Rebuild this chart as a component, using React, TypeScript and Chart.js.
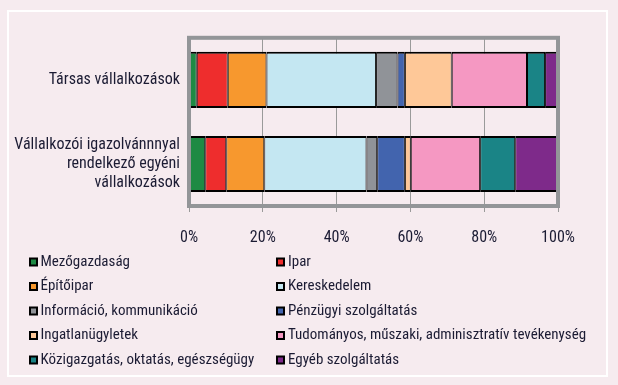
import React, { useEffect, useRef } from "react";
import { Chart, registerables } from "chart.js";

Chart.register(...registerables);

const categories: string[][] = [
  ["Társas vállalkozások"],
  ["Vállalkozói igazolvánnnyal", "rendelkező egyéni", "vállalkozások"],
];

const seriesNames = [
  "Mezőgazdaság",
  "Ipar",
  "Építőipar",
  "Kereskedelem",
  "Információ, kommunikáció",
  "Pénzügyi szolgáltatás",
  "Ingatlanügyletek",
  "Tudományos, műszaki, adminisztratív tevékenység",
  "Közigazgatás, oktatás, egészségügy",
  "Egyéb szolgáltatás",
];

const mezogazdasag = [2.1, 4.4];
const ipar = [8.4, 5.7];
const epitoipar = [10.5, 10.3];
const kereskedelem = [29.7, 27.7];
const informacio = [5.8, 2.9];
const penzugyi = [2.0, 7.5];
const ingatlan = [12.7, 1.6];
const tudomanyos = [20.4, 18.8];
const kozigazgatas = [4.9, 9.5];
const egyeb = [3.5, 11.6];

const seriesValues = [mezogazdasag, ipar, epitoipar, kereskedelem, informacio, penzugyi, ingatlan, tudomanyos, kozigazgatas, egyeb];

const seriesColors = ["#1e8a44", "#ee2d2d", "#f7982e", "#c4e7f2", "#909398", "#4264ae", "#fec898", "#f598c2", "#1a8486", "#7e2a8a"];

const xTicks = [0, 20, 40, 60, 80, 100];

const FONT = "Roboto, 'Liberation Sans', sans-serif";
const WEIGHT = "condensed";
const TEXT = "#1b1b33";
const BG = "#f6ebef";

export default function App() {
  const ref = useRef<HTMLCanvasElement | null>(null);

  useEffect(() => {
    if (!ref.current) return;

    const bgPlugin = {
      id: "bgFrame",
      beforeDraw(chart: any) {
        const ctx = chart.ctx;
        ctx.save();
        ctx.fillStyle = BG;
        ctx.fillRect(0, 0, chart.width, chart.height);
        ctx.strokeStyle = "#ffffff";
        ctx.lineWidth = 2;
        ctx.strokeRect(8, 11, 599, 365);
        ctx.restore();
      },
    };

    const boxPlugin = {
      id: "plotBox",
      afterDatasetsDraw(chart: any) {
        const { ctx, chartArea } = chart;
        ctx.save();
        ctx.strokeStyle = "#939598";
        ctx.lineWidth = 4;
        ctx.strokeRect(chartArea.left, chartArea.top, chartArea.right - chartArea.left, chartArea.bottom - chartArea.top);
        ctx.restore();
      },
    };

    const legendPlugin = {
      id: "twoColLegend",
      afterDraw(chart: any) {
        const ctx = chart.ctx;
        ctx.save();
        ctx.font = `${WEIGHT} 15px ${FONT}`;
        ctx.textBaseline = "middle";
        ctx.textAlign = "left";
        const colBox = [29, 276];
        const colText = [40.5, 288];
        const rowY = [262, 286.5, 311, 335.5, 360];
        chart.data.datasets.forEach((ds: any, i: number) => {
          const c = i % 2;
          const r = Math.floor(i / 2);
          const y = rowY[r];
          ctx.fillStyle = "#000000";
          ctx.fillRect(colBox[c], y - 4.5, 9, 9);
          ctx.fillStyle = ds.backgroundColor;
          ctx.fillRect(colBox[c] + 2, y - 2.5, 5, 5);
          ctx.fillStyle = TEXT;
          ctx.fillText(ds.label, colText[c], y);
        });
        ctx.restore();
      },
    };

    const chart = new Chart(ref.current, {
      type: "bar",
      data: {
        labels: categories,
        datasets: seriesNames.map((name, i) => ({
          label: name,
          data: seriesValues[i],
          backgroundColor: seriesColors[i],
          borderColor: "#000000",
          borderWidth: { top: 2, bottom: 2, left: 1, right: 1 },
          borderSkipped: false,
          barPercentage: 0.667,
          categoryPercentage: 1,
        })),
      },
      options: {
        indexAxis: "y",
        animation: false,
        responsive: false,
        devicePixelRatio: 1,
        layout: { padding: { left: 0, right: 60, top: 34, bottom: 139 } },
        plugins: { legend: { display: false }, tooltip: { enabled: false } },
        scales: {
          x: {
            stacked: true,
            min: 0,
            max: 100,
            afterBuildTicks(scale: any) {
              scale.ticks = xTicks.map((v) => ({ value: v }));
            },
            afterFit(scale: any) {
              scale.height = 40;
            },
            ticks: {
              callback: (v: any) => `${v}%`,
              font: { family: FONT, size: 16, weight: WEIGHT },
              color: TEXT,
              padding: 16,
              maxRotation: 0,
            },
            grid: { display: true, color: "#9a9a9a", lineWidth: 1, drawTicks: true, tickLength: 6, tickColor: "#9a9a9a" },
            border: { display: false },
          },
          y: {
            stacked: true,
            afterFit(scale: any) {
              scale.width = 189;
            },
            ticks: {
              font: { family: FONT, size: 16, weight: WEIGHT, lineHeight: 1.2 },
              color: TEXT,
              padding: 9,
              autoSkip: false,
            },
            grid: { display: false, drawTicks: false, tickLength: 0 },
            border: { display: false },
          },
        },
      },
      plugins: [bgPlugin, boxPlugin, legendPlugin],
    } as any);

    return () => chart.destroy();
  }, []);

  return (
    <div style={{ position: "absolute", left: 0, top: 0, width: 618, height: 385 }}>
      <canvas ref={ref} width={618} height={385} style={{ display: "block" }} />
    </div>
  );
}
